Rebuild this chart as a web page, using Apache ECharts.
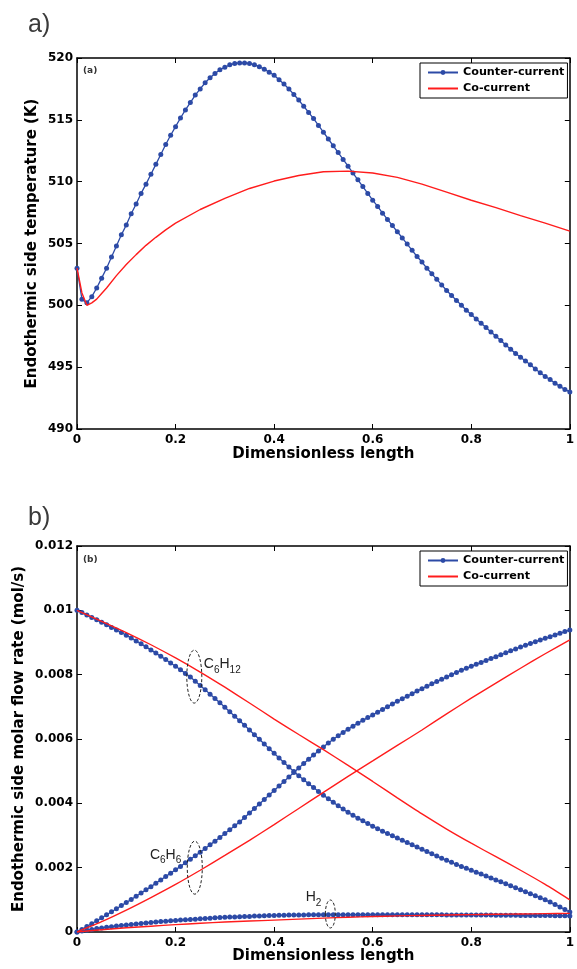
<!DOCTYPE html>
<html><head><meta charset="utf-8">
<script src="https://cdn.jsdelivr.net/npm/echarts@6/dist/echarts.min.js"></script>
<style>html,body{margin:0;padding:0;background:#fff}#c{width:577px;height:969px}</style>
</head><body><div id="c"></div><script>
// ---------- DATA ----------
const xTicks = [0, 0.2, 0.4, 0.6, 0.8, 1];
// (a) Endothermic side temperature (K), counter-current, sampled every 0.01 of length
const tempCounter = [503.0, 500.5, 500.2, 500.7, 501.4, 502.2, 503.0, 503.9, 504.8, 505.7,
 506.5, 507.4, 508.2, 509.05, 509.8, 510.6, 511.4, 512.2, 513.0, 513.75,
 514.45, 515.15, 515.8, 516.4, 517.0, 517.5, 518.0, 518.4, 518.75, 519.05,
 519.25, 519.45, 519.55, 519.6, 519.6, 519.55, 519.45, 519.3, 519.1, 518.85,
 518.6, 518.25, 517.9, 517.5, 517.05, 516.6, 516.1, 515.6, 515.1, 514.55,
 514.0, 513.45, 512.9, 512.35, 511.8, 511.25, 510.7, 510.15, 509.6, 509.05,
 508.5, 508.0, 507.45, 506.95, 506.45, 505.95, 505.45, 504.95, 504.45, 503.95,
 503.5, 503.0, 502.55, 502.1, 501.65, 501.2, 500.8, 500.4, 500.0, 499.6,
 499.25, 498.9, 498.55, 498.2, 497.85, 497.5, 497.15, 496.8, 496.45, 496.1,
 495.8, 495.5, 495.2, 494.85, 494.55, 494.25, 494.0, 493.7, 493.45, 493.2,
 493.0];
// (a) co-current
const tempCoX = [0, 0.01, 0.02, 0.03, 0.04, 0.05, 0.06, 0.08, 0.10, 0.12, 0.14, 0.16, 0.18, 0.20,
 0.25, 0.30, 0.35, 0.40, 0.45, 0.50, 0.55, 0.60, 0.65, 0.70, 0.75, 0.80, 0.85, 0.90, 0.95, 1.00];
const tempCo = [503.0, 501.0, 500.0, 500.2, 500.5, 500.95, 501.4, 502.4, 503.3, 504.1, 504.85, 505.5, 506.1, 506.65,
 507.75, 508.65, 509.45, 510.05, 510.5, 510.8, 510.85, 510.7, 510.35, 509.8, 509.15, 508.5, 507.9, 507.25, 506.65, 506.0];

// (b) molar flow rates (mol/s), counter-current, every 0.01
const c6h12Counter = [0.01, 0.00993, 0.009855, 0.00978, 0.009705, 0.00963, 0.00955, 0.00947, 0.00939, 0.00931,
 0.009225, 0.00914, 0.00905, 0.00896, 0.008865, 0.00877, 0.00867, 0.00857, 0.00847, 0.008365,
 0.00826, 0.00815, 0.00804, 0.007925, 0.007795, 0.007665, 0.00753, 0.007395, 0.00726, 0.007125,
 0.00699, 0.00685, 0.00671, 0.00657, 0.006425, 0.00628, 0.006135, 0.00599, 0.005845, 0.0057,
 0.005555, 0.00541, 0.00527, 0.00513, 0.00499, 0.00486, 0.004735, 0.00461, 0.00449, 0.00437,
 0.004255, 0.00414, 0.00403, 0.003925, 0.00382, 0.00372, 0.00363, 0.00354, 0.003455, 0.00337,
 0.00329, 0.00321, 0.003135, 0.00306, 0.00299, 0.00292, 0.00285, 0.00278, 0.00271, 0.00264,
 0.00257, 0.0025, 0.00243, 0.00236, 0.002295, 0.00223, 0.002165, 0.0021, 0.00204, 0.00198,
 0.00192, 0.00186, 0.0018, 0.00174, 0.00168, 0.00162, 0.00156, 0.0015, 0.001435, 0.001375,
 0.00131, 0.00125, 0.00119, 0.001125, 0.001065, 0.001, 0.00093, 0.000855, 0.00078, 0.0007,
 0.00062];
const c6h6Counter = [0, 0.00008, 0.00017, 0.00026, 0.00035, 0.00044, 0.000535, 0.00063, 0.000725, 0.00082,
 0.000915, 0.00101, 0.00111, 0.00121, 0.00131, 0.00141, 0.001515, 0.00162, 0.001725, 0.00183,
 0.001935, 0.00204, 0.00215, 0.00226, 0.00237, 0.00248, 0.002595, 0.00271, 0.002825, 0.00294,
 0.00306, 0.00318, 0.0033, 0.00342, 0.00356, 0.0037, 0.00384, 0.00398, 0.00412, 0.00426,
 0.0044, 0.00454, 0.00468, 0.00482, 0.00496, 0.0051, 0.005235, 0.00537, 0.0055, 0.00563,
 0.005755, 0.005875, 0.00599, 0.0061, 0.006205, 0.006305, 0.0064, 0.00649, 0.00658, 0.006665,
 0.00675, 0.006835, 0.00692, 0.007005, 0.00709, 0.00717, 0.00725, 0.00733, 0.00741, 0.00749,
 0.007565, 0.00764, 0.007715, 0.007785, 0.007855, 0.007925, 0.008, 0.00807, 0.00814, 0.0082,
 0.00826, 0.00832, 0.00838, 0.00844, 0.0085, 0.00856, 0.00862, 0.00868, 0.00874, 0.0088,
 0.00886, 0.008915, 0.00897, 0.009025, 0.00908, 0.00913, 0.00918, 0.009235, 0.009285, 0.00934,
 0.00939];
const h2Counter = [0, 0.00003, 0.000055, 0.00008, 0.000105, 0.000125, 0.000145, 0.000165, 0.000185, 0.000205,
 0.00022, 0.000235, 0.00025, 0.000265, 0.00028, 0.000295, 0.00031, 0.000325, 0.000335, 0.00035,
 0.00036, 0.00037, 0.00038, 0.00039, 0.0004, 0.00041, 0.00042, 0.00043, 0.00044, 0.00045,
 0.00046, 0.000465, 0.00047, 0.000475, 0.00048, 0.000485, 0.000495, 0.0005, 0.000505, 0.00051,
 0.000515, 0.00052, 0.00052, 0.000525, 0.000525, 0.00053, 0.00053, 0.000535, 0.000535, 0.000535,
 0.00054, 0.00054, 0.00054, 0.00054, 0.00054, 0.00054, 0.00054, 0.00054, 0.00054, 0.00054,
 0.00054, 0.00054, 0.00054, 0.00054, 0.00054, 0.00054, 0.000535, 0.000535, 0.000535, 0.000535,
 0.000535, 0.000535, 0.000535, 0.000535, 0.000535, 0.00053, 0.00053, 0.00053, 0.00053, 0.00053,
 0.00053, 0.00053, 0.000525, 0.000525, 0.000525, 0.00052, 0.00052, 0.00052, 0.00052, 0.00052,
 0.000515, 0.000515, 0.000515, 0.000515, 0.00051, 0.00051, 0.00051, 0.000505, 0.000505, 0.000505,
 0.0005];
// (b) co-current, every 0.05
const coX = [0, 0.05, 0.10, 0.15, 0.20, 0.25, 0.30, 0.35, 0.40, 0.45, 0.50, 0.55, 0.60, 0.65, 0.70, 0.75, 0.80, 0.85, 0.90, 0.95, 1.00];
const c6h12Co = [0.01, 0.00966, 0.00931, 0.00893, 0.00852, 0.00808, 0.00761, 0.00712, 0.00662, 0.00614, 0.00567,
 0.00518, 0.00468, 0.00417, 0.00367, 0.0032, 0.00276, 0.00234, 0.00192, 0.00148, 0.001];
const c6h6Co = [0, 0.00032, 0.00068, 0.00107, 0.00148, 0.00192, 0.00238, 0.00285, 0.00334, 0.00384, 0.00434,
 0.00484, 0.00532, 0.0058, 0.00628, 0.00678, 0.00727, 0.00774, 0.0082, 0.00865, 0.00908];
const h2Co = [0, 0.00007, 0.00013, 0.00018, 0.00023, 0.00027, 0.00031, 0.00034, 0.00037, 0.0004, 0.00043,
 0.00046, 0.00048, 0.0005, 0.000515, 0.00053, 0.00054, 0.00055, 0.00056, 0.00057, 0.00058];
// annotations (data coords of ellipse centres in panel b)
const annotations = [
  {label: ['C', '6', 'H', '12'], x: 0.238, y: 0.00794, side: 'right'},
  {label: ['C', '6', 'H', '6'], x: 0.239, y: 0.0020, side: 'left'},
  {label: ['H', '2'], x: 0.514, y: 0.00056, side: 'leftSmall'}
];

// ---------- CHART ----------
const FONT = '"DejaVu Sans", "Liberation Sans", Arial, sans-serif';
const FONT2 = '"Liberation Sans", Arial, Helvetica, sans-serif';
const BLUE = '#2c4aa6', RED = '#ff1c1c';
const step = 0.01;
const pairs = (xs, ys) => ys.map((v, i) => [xs[i], v]);
const xGrid = tempCounter.map((_, i) => +(i * step).toFixed(2));

const chart = echarts.init(document.getElementById('c'), null, {renderer: 'canvas'});
const labelStyle = {fontFamily: FONT, fontWeight: 'bold', fontSize: 12, color: '#000'};
const nameStyle = {fontFamily: FONT, fontWeight: 'bold', fontSize: 15, color: '#000'};
const lineBlack = {color: '#000', width: 1.5};

function xAx(grid, top, name, gap) {
  return {
    gridIndex: grid, type: 'value', min: 0, max: 1, interval: 0.2,
    position: top ? 'top' : 'bottom',
    name: top ? '' : name, nameLocation: 'middle', nameGap: gap, nameTextStyle: nameStyle,
    nameMoveOverlap: false,
    axisLine: {onZero: false, lineStyle: lineBlack},
    axisTick: {inside: true, length: 5, lineStyle: {color: '#000', width: 1}},
    axisLabel: top ? {show: false} : Object.assign({margin: 5, formatter: v => String(v)}, labelStyle),
    splitLine: {show: false}
  };
}
function yAx(grid, right, min, max, interval, name, gap) {
  return {
    gridIndex: grid, type: 'value', min, max, interval,
    position: right ? 'right' : 'left',
    name: right ? '' : name, nameLocation: 'middle', nameGap: gap, nameTextStyle: nameStyle,
    nameMoveOverlap: false,
    axisLine: {onZero: false, lineStyle: lineBlack},
    axisTick: {inside: true, length: 5, lineStyle: {color: '#000', width: 1}},
    axisLabel: right ? {show: false} : Object.assign({margin: 4}, labelStyle),
    splitLine: {show: false}
  };
}
const legendBase = {
  orient: 'vertical', left: 420,
  data: ['Counter-current', {name: 'Co-current', itemStyle: {opacity: 0}}],
  borderColor: '#000', borderWidth: 1, backgroundColor: '#fff', borderRadius: 0,
  padding: [4, 3, 4, 7], itemGap: 5, itemWidth: 30, itemHeight: 6, selectedMode: false,
  textStyle: {fontFamily: FONT, fontWeight: 'bold', fontSize: 11.2, color: '#000'}
};

const blueSeries = (name, xi, data) => ({
  name, type: 'line', xAxisIndex: xi, yAxisIndex: xi, data,
  symbol: 'circle', symbolSize: 5, showSymbol: true,
  lineStyle: {color: BLUE, width: 1.3}, itemStyle: {color: BLUE}, z: 2
});
const redSeries = (name, xi, data, smooth) => ({
  name, type: 'line', xAxisIndex: xi, yAxisIndex: xi, data, smooth,
  symbol: 'none', lineStyle: {color: RED, width: 1.4}, itemStyle: {color: RED}, z: 3
});

const option = {
  animation: false,
  backgroundColor: '#fff',
  grid: [
    {left: 77, top: 58, width: 498, height: 371},
    {left: 77, top: 546, width: 498, height: 386}
  ],
  xAxis: [xAx(0, false, 'Dimensionless length', 18), xAx(0, true), xAx(1, false, 'Dimensionless length', 17), xAx(1, true)],
  yAxis: [
    yAx(0, false, 490, 520, 5, 'Endothermic side temperature (K)', 37), yAx(0, true, 490, 520, 5),
    yAx(1, false, 0, 0.012, 0.002, 'Endothermic side molar flow rate (mol/s)', 50), yAx(1, true, 0, 0.012, 0.002)
  ],
  legend: [Object.assign({top: 63}, legendBase), Object.assign({top: 551}, legendBase)],
  series: [
    blueSeries('Counter-current', 0, pairs(xGrid, tempCounter)),
    redSeries('Co-current', 0, pairs(tempCoX, tempCo), false),
    blueSeries('Counter-current', 2, pairs(xGrid, c6h12Counter)),
    blueSeries('Counter-current', 2, pairs(xGrid, c6h6Counter)),
    blueSeries('Counter-current', 2, pairs(xGrid, h2Counter)),
    redSeries('Co-current', 2, pairs(coX, c6h12Co), 0.2),
    redSeries('Co-current', 2, pairs(coX, c6h6Co), 0.2),
    redSeries('Co-current', 2, pairs(coX, h2Co), 0.2)
  ]
};
chart.setOption(option);

// ---------- text & annotations ----------
const g = [
  {type: 'text', left: 28, top: 13, style: {text: 'a)', fontFamily: FONT2, fontSize: 25, fill: '#3a3a3a'}},
  {type: 'text', left: 83, top: 66, style: {text: '(a)', fontFamily: FONT, fontWeight: 'bold', fontSize: 9, fill: '#333'}},
  {type: 'text', left: 28, top: 506, style: {text: 'b)', fontFamily: FONT2, fontSize: 25, fill: '#3a3a3a'}},
  {type: 'text', left: 83, top: 555, style: {text: '(b)', fontFamily: FONT, fontWeight: 'bold', fontSize: 9, fill: '#333'}}
];
const rich = {
  n: {fontFamily: FONT2, fontSize: 14, fill: '#222', color: '#222', lineHeight: 15, verticalAlign: 'top'},
  s: {fontFamily: FONT2, fontSize: 10, fill: '#222', color: '#222', lineHeight: 10, padding: [8, 0, 0, 0], verticalAlign: 'top'}
};
annotations.forEach(a => {
  const p = chart.convertToPixel({xAxisIndex: 2, yAxisIndex: 2}, [a.x, a.y]);
  const small = a.side === 'leftSmall';
  const rx = small ? 5 : 7.5, ry = small ? 14 : 26.5;
  g.push({type: 'ellipse', shape: {cx: p[0], cy: p[1], rx, ry}, z: 10,
    style: {fill: 'none', stroke: '#222', lineWidth: 1, lineDash: [3, 2]}});
  const txt = a.label.map((t, i) => (i % 2 === 0 ? '{n|' : '{s|') + t + '}').join('');
  let x, y, align;
  if (a.side === 'right') { x = p[0] + rx + 2; y = p[1] - 19; align = 'left'; }
  else if (a.side === 'left') { x = p[0] - rx - 6; y = p[1] - 20; align = 'right'; }
  else { x = p[0] - rx - 4; y = p[1] - 24; align = 'right'; }
  g.push({type: 'text', z: 10, x, y, style: {text: txt, rich, align, verticalAlign: 'top'}});
});
chart.setOption({graphic: g});
</script></body></html>
